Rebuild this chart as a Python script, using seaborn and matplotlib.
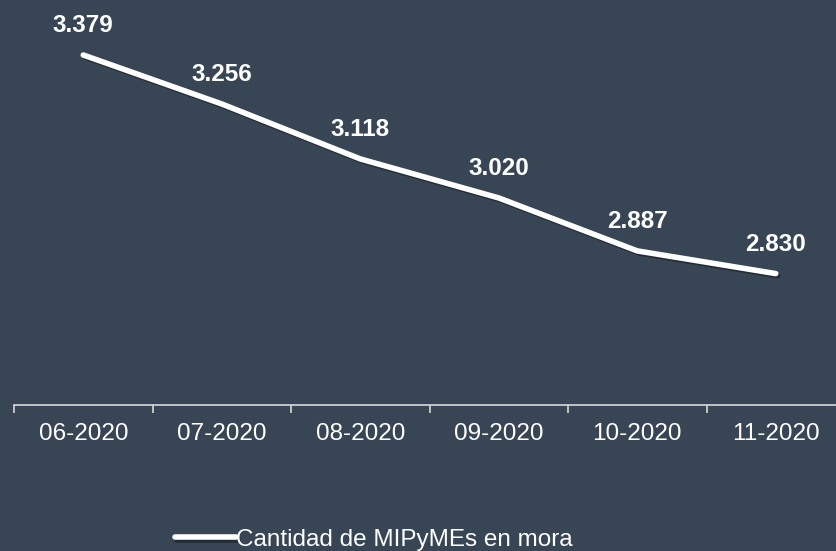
import matplotlib
matplotlib.use("Agg")
import matplotlib.pyplot as plt
import matplotlib.patheffects as pe
import seaborn as sns
import pandas as pd

# Data
months = ["06-2020", "07-2020", "08-2020", "09-2020", "10-2020", "11-2020"]
mipymes_mora = [3379, 3256, 3118, 3020, 2887, 2830]
labels = ["3.379", "3.256", "3.118", "3.020", "2.887", "2.830"]

bg = "#374555"
sns.set_style("white")
plt.rcParams['font.family'] = ['Liberation Sans', 'DejaVu Sans']

df = pd.DataFrame({"mes": months, "valor": mipymes_mora})

fig = plt.figure(figsize=(8.36, 5.51), dpi=100)
fig.patch.set_facecolor(bg)
ax = fig.add_axes([14 / 836, 146 / 551, 831 / 836, 395 / 551])
ax.set_facecolor(bg)

sns.lineplot(data=df, x="mes", y="valor", ax=ax, color="white", linewidth=4,
             label="Cantidad de MIPyMEs en mora",
             path_effects=[pe.SimpleLineShadow(offset=(1.5, -1.5), alpha=0.35),
                           pe.Normal()])

for i, (v, t) in enumerate(zip(mipymes_mora, labels)):
    ax.annotate(t, (i, v), xytext=(0, 13), textcoords="offset points",
                ha="center", va="bottom", color="white", fontsize=17.5,
                fontweight="bold")

ax.set_xlim(-0.5, 5.5)
ax.set_ylim(2500, 3492)
ax.set_xticks([i - 0.5 for i in range(7)], minor=True)
ax.set_xticks(range(6))
ax.set_xticklabels(months, color="white", fontsize=17.5)
ax.tick_params(axis="x", which="major", bottom=False, length=0, pad=13)
ax.tick_params(axis="x", which="minor", bottom=True, length=6, width=1.2,
               color="#d9d9d9", direction="out")
ax.set_yticks([])
ax.set_xlabel("")
ax.set_ylabel("")
for s in ["top", "right", "left"]:
    ax.spines[s].set_visible(False)
ax.spines["bottom"].set_color("#d9d9d9")
ax.spines["bottom"].set_linewidth(1.2)

leg = ax.legend(loc="center", bbox_to_anchor=(0.447, 0.02),
                bbox_transform=fig.transFigure, frameon=False, fontsize=17.5,
                handlelength=2.5, handletextpad=0.0)
for txt in leg.get_texts():
    txt.set_color("white")

plt.savefig("out.png", dpi=100, facecolor=bg)
